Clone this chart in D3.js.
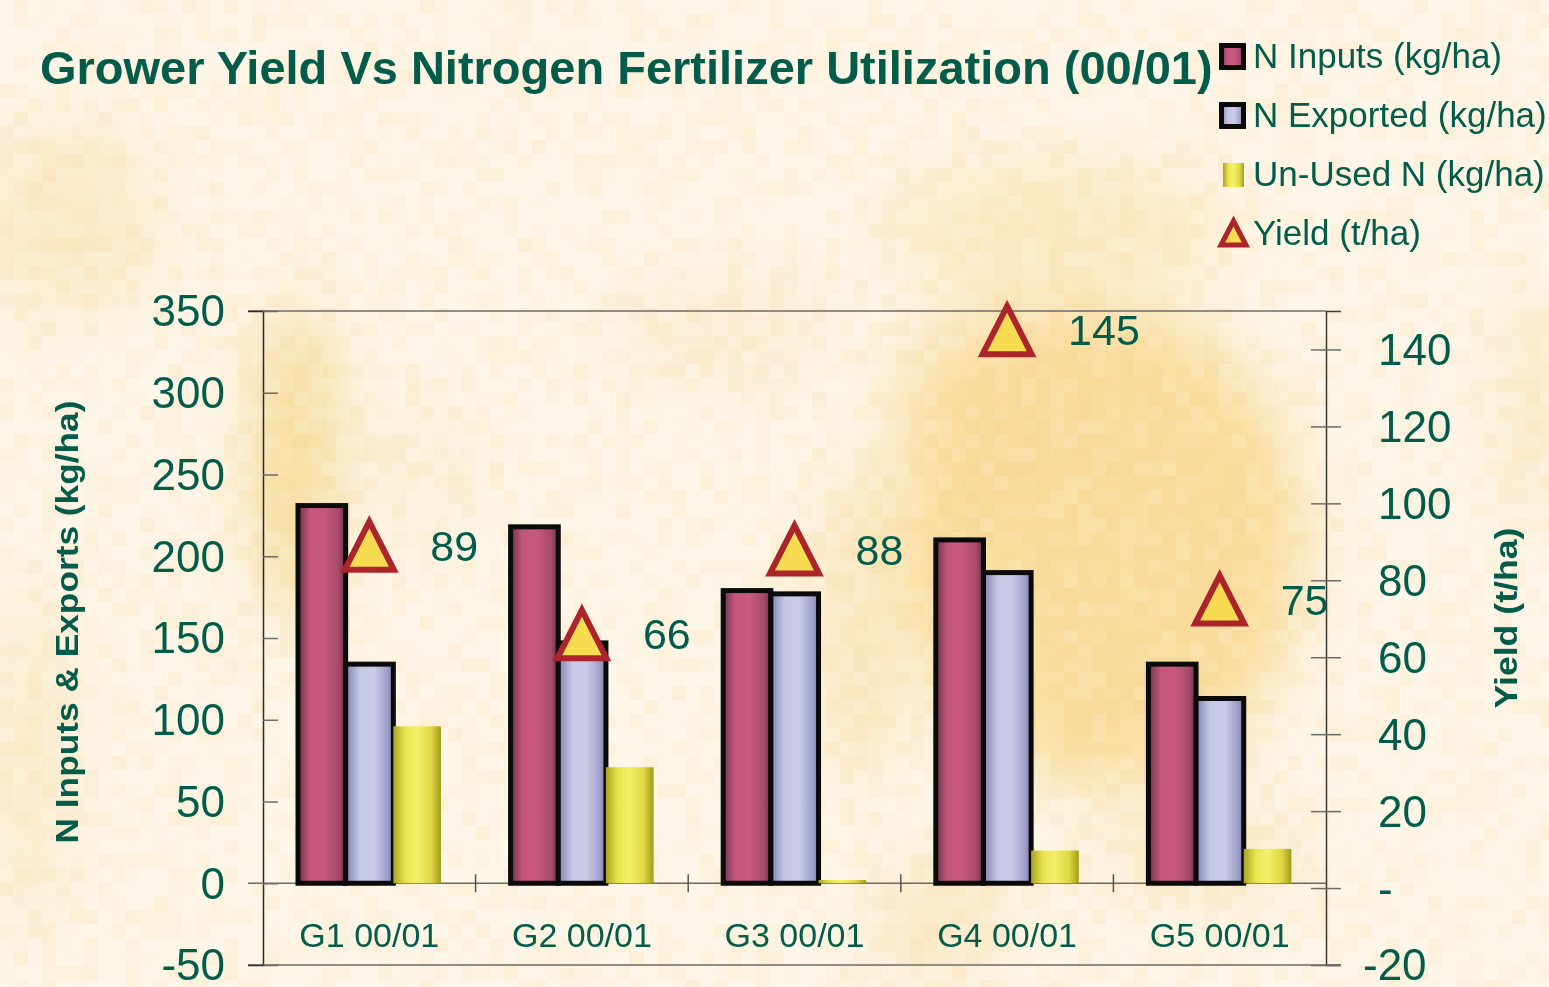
<!DOCTYPE html>
<html>
<head>
<meta charset="utf-8">
<script src="https://cdn.jsdelivr.net/npm/d3@7"></script>
<style>
  html, body { margin: 0; padding: 0; background: #fdf5e4; }
  svg { display: block; font-family: "Liberation Sans", Arial, sans-serif; }
</style>
</head>
<body>
<div id="chart"></div>
<script>
const width = 1549;
const height = 987;
const plot = { left: 263, right: 1326, top: 311, bottom: 965 };
const green = "#035c4a";

// data
const categories = ["G1 00/01", "G2 00/01", "G3 00/01", "G4 00/01", "G5 00/01"];
const nInputs = [231, 218, 179, 210, 134];
const nExported = [134, 147, 177, 190, 113];
const unusedN = [96, 71, 2, 20, 21];
const yieldTha = [89, 66, 88, 145, 75];
const leftTicks = [-50, 0, 50, 100, 150, 200, 250, 300, 350];
const rightTicks = [-20, 0, 20, 40, 60, 80, 100, 120, 140];
const seriesNames = ["N Inputs (kg/ha)", "N Exported (kg/ha)", "Un-Used N (kg/ha)", "Yield (t/ha)"];

const svg = d3
  .select("#chart")
  .append("svg")
  .attr("width", width)
  .attr("height", height);

const defs = svg.append("defs");

// horizontal "cylinder" gradients for the bars
function barGradient(id, stops) {
  const g = defs
    .append("linearGradient")
    .attr("id", id)
    .attr("x1", "0%")
    .attr("x2", "100%")
    .attr("y1", "0%")
    .attr("y2", "0%");
  stops.forEach(([o, c]) => g.append("stop").attr("offset", o).attr("stop-color", c));
}
barGradient("gPink", [["0%", "#6e3449"], ["25%", "#c4557c"], ["55%", "#c8587f"], ["85%", "#a54a6a"], ["100%", "#6a3347"]]);
barGradient("gBlue", [["0%", "#8282b2"], ["30%", "#c6c8e6"], ["60%", "#c9cbe8"], ["88%", "#9e9ec8"], ["100%", "#7d7dac"]]);
barGradient("gYellow", [["0%", "#aaa322"], ["25%", "#e8e44e"], ["50%", "#f4f06a"], ["80%", "#dcd640"], ["100%", "#a29b1c"]]);

defs.append("filter").attr("id", "blur")
  .attr("x", "-50%").attr("y", "-50%").attr("width", "200%").attr("height", "200%")
  .append("feGaussianBlur").attr("stdDeviation", 30);

// background: pale cream with soft yellow patches and a blocky mottle
svg.append("rect").attr("width", width).attr("height", height).attr("fill", "#fdf5e6");
const patches = [
  [1105, 545, 200, 240, "#f8d994", 0.9],
  [1000, 420, 110, 120, "#f9da98", 0.7],
  [1060, 230, 170, 70, "#fae2ae", 0.6],
  [860, 620, 50, 160, "#fae0a8", 0.6],
  [295, 460, 40, 160, "#f6d68c", 0.85],
  [70, 220, 90, 100, "#f9e2b0", 0.55],
  [30, 760, 40, 180, "#fae2b0", 0.5],
  [720, 330, 110, 50, "#fbe6bf", 0.5],
  [1535, 400, 40, 110, "#fae2b0", 0.5],
  [940, 920, 70, 60, "#f8dea8", 0.55],
  [1200, 850, 110, 50, "#f9e2b0", 0.5],
  [420, 470, 60, 80, "#fbe8c6", 0.4]
];
svg
  .append("g")
  .attr("filter", "url(#blur)")
  .selectAll("ellipse")
  .data(patches)
  .enter()
  .append("ellipse")
  .attr("cx", (d) => d[0])
  .attr("cy", (d) => d[1])
  .attr("rx", (d) => d[2])
  .attr("ry", (d) => d[3])
  .attr("fill", (d) => d[4])
  .attr("opacity", (d) => d[5]);

// blocky mottle (deterministic hash, decoration only)
const cell = 14;
const cells = [];
for (let j = 0; j < Math.ceil(height / cell); j++) {
  for (let i = 0; i < Math.ceil(width / cell); i++) cells.push([i, j]);
}
const hash = (i, j) => {
  const s = Math.sin(i * 12.9898 + j * 78.233) * 43758.5453;
  return s - Math.floor(s);
};
svg
  .append("g")
  .selectAll("rect")
  .data(cells)
  .enter()
  .append("rect")
  .attr("x", (d) => d[0] * cell)
  .attr("y", (d) => d[1] * cell)
  .attr("width", cell)
  .attr("height", cell)
  .attr("fill", (d) => (hash(d[0], d[1]) > 0.5 ? "#f3cf80" : "#ffffff"))
  .attr("opacity", (d) => Math.abs(hash(d[0], d[1]) - 0.5) * 0.28);

// scales
const x = d3.scaleBand().domain(categories).range([plot.left, plot.right]);
const xSub = d3
  .scaleBand()
  .domain([0, 1, 2])
  .range([35, 178]);
const yL = d3.scaleLinear().domain([-50, 350]).range([plot.bottom, plot.top]);
const yR = d3.scaleLinear().domain([-20, 150]).range([plot.bottom, plot.top]);

// frame lines
svg.append("line")
  .attr("x1", plot.left - 15).attr("x2", plot.right)
  .attr("y1", plot.top).attr("y2", plot.top)
  .attr("stroke", "#6b6b66").attr("stroke-width", 1.5);
svg.append("line")
  .attr("x1", plot.left - 15).attr("x2", plot.right + 15)
  .attr("y1", plot.bottom).attr("y2", plot.bottom)
  .attr("stroke", "#6b6b66").attr("stroke-width", 1.5);

// left axis
const leftAxis = svg
  .append("g")
  .attr("transform", `translate(${plot.left},0)`)
  .call(
    d3.axisLeft(yL)
      .tickValues(leftTicks)
      .tickSize(15)
      .tickPadding(23)
      .tickFormat((d) => String(d))
  );
leftAxis.select(".domain").attr("stroke", "#2b2b2b").attr("stroke-width", 1.5);
leftAxis.selectAll(".tick line").attr("x2", 15).attr("stroke", "#6b6b66").attr("stroke-width", 1.5);
leftAxis.selectAll(".tick text")
  .attr("fill", green)
  .style("font-size", "44px")
  .attr("dy", "0.34em");

// right axis
const rightAxis = svg
  .append("g")
  .attr("transform", `translate(${plot.right},0)`)
  .call(
    d3.axisRight(yR)
      .tickValues(rightTicks)
      .tickSize(15)
      .tickPadding(37)
      .tickFormat((d) => (d === 0 ? "-" : String(d)))
  );
rightAxis.select(".domain").attr("stroke", "#3a3a36").attr("stroke-width", 1.5);
rightAxis.selectAll(".tick line").attr("x1", -15).attr("stroke", "#6b6b66").attr("stroke-width", 1.5);
rightAxis.selectAll(".tick text")
  .attr("fill", green)
  .style("font-size", "44px")
  .attr("dy", "0.34em")
  .attr("dx", (d) => (d < 0 ? -15 : 0));

// zero line + category separators
svg.append("line")
  .attr("x1", plot.left - 15).attr("x2", plot.right)
  .attr("y1", yL(0)).attr("y2", yL(0))
  .attr("stroke", "#6b6b66").attr("stroke-width", 1.5);
svg
  .append("g")
  .selectAll("line")
  .data(categories.slice(1))
  .enter()
  .append("line")
  .attr("x1", (d) => x(d))
  .attr("x2", (d) => x(d))
  .attr("y1", yL(0) - 9)
  .attr("y2", yL(0) + 9)
  .attr("stroke", "#555550")
  .attr("stroke-width", 1.5);

// category labels
svg
  .append("g")
  .selectAll("text")
  .data(categories)
  .enter()
  .append("text")
  .attr("x", (d) => x(d) + x.bandwidth() / 2)
  .attr("y", 947)
  .attr("text-anchor", "middle")
  .attr("fill", green)
  .style("font-size", "34px")
  .text((d) => d);

// bars
const barSeries = [
  { values: nInputs, fill: "url(#gPink)", outline: true },
  { values: nExported, fill: "url(#gBlue)", outline: true },
  { values: unusedN, fill: "url(#gYellow)", outline: false }
];
barSeries.forEach((s, si) => {
  svg
    .append("g")
    .selectAll("rect")
    .data(categories)
    .enter()
    .append("rect")
    .attr("x", (d) => x(d) + xSub(si))
    .attr("y", (d, i) => yL(s.values[i]))
    .attr("width", xSub.bandwidth())
    .attr("height", (d, i) => yL(0) - yL(s.values[i]))
    .attr("fill", s.fill)
    .attr("stroke", s.outline ? "#0b0b0b" : "none")
    .attr("stroke-width", 5);
});

// yield triangles
const tri = (cx, cy, w, h) =>
  `M${cx},${cy - h / 2}L${cx + w / 2},${cy + h / 2}L${cx - w / 2},${cy + h / 2}Z`;

svg
  .append("g")
  .selectAll("path")
  .data(categories)
  .enter()
  .append("path")
  .attr("d", (d, i) => tri(x(d) + x.bandwidth() / 2, yR(yieldTha[i]), 49, 48))
  .attr("fill", "#f7dc52")
  .attr("stroke", "#ab2429")
  .attr("stroke-width", 6)
  .attr("stroke-linejoin", "miter");

svg
  .append("g")
  .selectAll("text")
  .data(categories)
  .enter()
  .append("text")
  .attr("x", (d) => x(d) + x.bandwidth() / 2 + 61)
  .attr("y", (d, i) => yR(yieldTha[i]) + 15)
  .attr("fill", green)
  .style("font-size", "43px")
  .text((d, i) => yieldTha[i]);

// title
svg
  .append("text")
  .attr("x", 40)
  .attr("y", 84)
  .attr("fill", green)
  .style("font-size", "47px")
  .style("font-weight", "bold")
  .text("Grower Yield Vs Nitrogen Fertilizer Utilization (00/01)");

// axis titles
svg
  .append("text")
  .attr("transform", "translate(78,622) rotate(-90)")
  .attr("text-anchor", "middle")
  .attr("fill", green)
  .style("font-size", "31px")
  .style("font-weight", "bold")
  .attr("textLength", 443)
  .attr("lengthAdjust", "spacingAndGlyphs")
  .text("N Inputs & Exports (kg/ha)");

svg
  .append("text")
  .attr("transform", "translate(1517,618) rotate(-90)")
  .attr("text-anchor", "middle")
  .attr("fill", green)
  .style("font-size", "31px")
  .style("font-weight", "bold")
  .attr("textLength", 181)
  .attr("lengthAdjust", "spacingAndGlyphs")
  .text("Yield (t/ha)");

// legend
const legend = svg.append("g").attr("transform", "translate(1219,0)");
const rowY = (i) => 68 + i * 59;

legend
  .selectAll("text")
  .data(seriesNames)
  .enter()
  .append("text")
  .attr("x", 34)
  .attr("y", (d, i) => rowY(i))
  .attr("fill", green)
  .style("font-size", "35px")
  .text((d) => d);

legend.append("rect")
  .attr("x", 2.5).attr("y", rowY(0) - 22.5).attr("width", 22).attr("height", 22)
  .attr("fill", "url(#gPink)").attr("stroke", "#0b0b0b").attr("stroke-width", 5);
legend.append("rect")
  .attr("x", 2.5).attr("y", rowY(1) - 22.5).attr("width", 22).attr("height", 22)
  .attr("fill", "url(#gBlue)").attr("stroke", "#0b0b0b").attr("stroke-width", 5);
legend.append("rect")
  .attr("x", 4).attr("y", rowY(2) - 23).attr("width", 21).attr("height", 24)
  .attr("fill", "url(#gYellow)");
legend.append("path")
  .attr("d", tri(14.5, rowY(3) - 12, 25, 24))
  .attr("fill", "#f7dc52")
  .attr("stroke", "#ab2429")
  .attr("stroke-width", 5);
</script>
</body>
</html>
